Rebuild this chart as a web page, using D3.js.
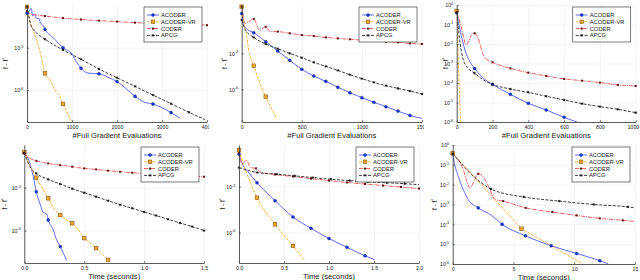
<!DOCTYPE html>
<html><head><meta charset="utf-8">
<script src="https://cdn.jsdelivr.net/npm/d3@7"></script>
<style>body{margin:0;background:#fff}svg{display:block}text{font-family:"Liberation Sans",Arial,sans-serif;fill:#222}</style>
</head><body><svg id="c" width="640" height="280"></svg>
<script>
// ---------- DATA (x, log10(f - f*), marker flag) ----------
const seriesNames = ["ACODER","ACODER-VR","CODER","APCG"];

const p1_acoder = [[0,-0.55,1],[40,-0.45],[90,-0.2],[130,-0.75],[160,-0.6],[220,-0.95],[260,-0.9],[300,-1.25],[350,-1.4],[400,-1.7,1],[600,-2.35],[800,-3.0,1],[1000,-3.45],[1100,-4.0],[1200,-4.45,1],[1350,-4.8],[1600,-4.85,1],[1800,-5.1],[2000,-5.4,1],[2200,-5.9],[2400,-6.45,1],[2600,-6.85],[2800,-7.0,1],[3000,-7.25],[3200,-7.6,1],[3400,-8.0]];
const p1_acodervr = [[0,-0.1,1],[74,-1.2],[148,-1.87],[259,-2.93],[333,-3.87],[400,-4.82,1],[511,-5.29],[622,-6.0],[733,-6.47],[800,-6.99,1],[881,-7.54],[990,-8.2]];
const p1_coder = [[0,-0.4,1],[50,-0.55],[100,-0.6],[200,-0.68],[400,-0.75,1],[800,-0.9,1],[1200,-1.0,1],[1600,-1.08,1],[2000,-1.15,1],[2400,-1.22,1],[2800,-1.28,1],[3200,-1.33,1],[3600,-1.37,1],[4000,-1.4,1],[4400,-1.43]];
const p1_apcg = [[0,-0.1,1],[30,-0.6],[74,-1.27],[148,-1.74],[250,-2.05],[400,-2.4,1],[800,-3.16,1],[1200,-3.82,1],[1600,-4.51,1],[2000,-5.13,1],[2400,-5.74,1],[2800,-6.36,1],[3200,-6.97,1],[3600,-7.58,1],[3950,-8.1]];

const p2_acoder = [[0,0.33,1],[25,-0.78],[55,-1.06],[100,-1.28,1],[200,-2.03,1],[300,-2.81,1],[400,-3.58,1],[500,-4.33,1],[600,-4.89,1],[700,-5.33,1],[800,-5.83,1],[900,-6.28,1],[1000,-6.69,1],[1100,-7.08,1],[1200,-7.44,1],[1300,-7.81,1],[1400,-8.17,1],[1500,-8.42]];
const p2_acodervr = [[0,0.89,1],[14,-0.22],[42,-1.61],[55,-2.5],[100,-4.03,1],[153,-5.5],[200,-6.61,1],[292,-8.42]];
const p2_coder = [[0,0.89,1],[28,-0.5],[60,-0.35],[100,-0.14,1],[150,-1.06],[200,-0.78,1],[240,-1.19],[300,-1.19,1],[400,-1.33,1],[500,-1.47,1],[600,-1.56,1],[700,-1.67,1],[800,-1.75,1],[900,-1.83,1],[1000,-1.89,1],[1100,-1.97,1],[1200,-2.03,1],[1300,-2.08,1],[1400,-2.17,1],[1500,-2.22,1]];
const p2_apcg = [[0,-0.22,1],[28,-1.0],[100,-1.67,1],[200,-2.22,1],[300,-2.61,1],[400,-3.0,1],[500,-3.36,1],[600,-3.75,1],[700,-4.08,1],[800,-4.42,1],[900,-4.78,1],[1000,-5.11,1],[1100,-5.42,1],[1200,-5.69,1],[1300,-5.92,1],[1400,-6.14,1],[1500,-6.39,1]];

const p3_acoder = [[0,-0.39,1],[19,-1.28],[46,-2.31],[74,-2.91],[100,-3.25,1],[150,-3.76],[200,-4.07,1],[300,-4.58,1],[400,-5.04,1],[500,-5.38,1],[600,-5.76,1],[700,-6.1]];
const p3_acodervr = [[0,-0.3,1],[8,-2.6],[16,-4.6],[24,-6.2]];
const p3_coder = [[0,-0.39,1],[25,-1.1],[40,-1.7],[52,-2.05],[65,-1.9],[85,-1.5],[100,-1.45,1],[115,-1.6],[130,-2.0],[150,-2.6],[170,-2.8],[200,-2.94,1],[300,-3.25,1],[400,-3.47,1],[500,-3.64,1],[600,-3.79,1],[700,-3.88,1],[800,-3.98,1],[900,-4.1,1],[1000,-4.15,1]];
const p3_apcg = [[0,-0.39,1],[19,-1.97],[37,-2.82],[65,-3.25],[100,-3.5,1],[150,-3.85],[200,-4.07,1],[300,-4.31,1],[400,-4.48,1],[500,-4.68,1],[600,-4.87,1],[700,-5.06,1],[800,-5.21,1],[900,-5.35,1],[1000,-5.52,1]];

const p4_acoder = [[0,-0.56,1],[0.047,-1.3],[0.075,-2.23],[0.1,-3.28,1],[0.13,-4.09],[0.16,-4.74],[0.187,-4.84],[0.2,-5.26,1],[0.242,-5.95],[0.27,-6.65],[0.3,-7.12,1],[0.326,-7.58],[0.354,-8.09]];
const p4_acodervr = [[0,-0.5,1],[0.047,-1.42],[0.1,-2.3,1],[0.159,-3.16],[0.2,-3.74,1],[0.256,-4.56],[0.3,-4.91,1],[0.354,-5.26],[0.4,-5.49,1],[0.45,-5.95],[0.5,-6.53,1],[0.55,-6.88],[0.6,-7.23,1],[0.645,-7.58],[0.7,-8.05,1]];
const p4_coder = [[0,-0.6,1],[0.05,-0.95],[0.1,-1.12,1],[0.2,-1.3,1],[0.3,-1.42,1],[0.4,-1.53,1],[0.5,-1.65,1],[0.6,-1.72,1],[0.7,-1.81,1],[0.8,-1.88,1],[0.9,-1.95,1],[1.0,-2.0,1],[1.1,-2.05,1],[1.2,-2.12,1],[1.3,-2.14,1],[1.4,-2.19,1],[1.5,-2.23,1]];
const p4_apcg = [[0,-0.56,1],[0.047,-1.53],[0.1,-2.0,1],[0.2,-2.42,1],[0.3,-2.74,1],[0.4,-3.07,1],[0.5,-3.35,1],[0.6,-3.63,1],[0.7,-3.91,1],[0.8,-4.19,1],[0.9,-4.44,1],[1.0,-4.7,1],[1.1,-4.95,1],[1.2,-5.21,1],[1.3,-5.47,1],[1.4,-5.72,1],[1.5,-6.0,1]];

const p5_acoder = [[0,-0.87,1],[0.044,-1.59],[0.1,-2.02],[0.2,-2.74,1],[0.4,-3.91,1],[0.6,-4.98,1],[0.8,-5.72,1],[1.0,-6.39,1],[1.2,-6.96,1],[1.4,-7.52,1],[1.51,-7.78]];
const p5_acodervr = [[0,-0.61,1],[0.044,-1.48],[0.1,-2.35],[0.2,-3.72,1],[0.4,-5.46,1],[0.6,-6.87,1],[0.73,-7.83]];
const p5_coder = [[0,-0.78,1],[0.04,-1.55],[0.08,-1.26],[0.13,-1.75],[0.19,-1.8,1],[0.24,-2.05],[0.4,-2.2,1],[0.6,-2.33,1],[0.8,-2.47,1],[1.0,-2.6,1],[1.2,-2.72,1],[1.4,-2.82,1],[1.6,-2.92,1],[1.8,-3.02,1],[2.0,-3.12,1]];
const p5_apcg = [[0,-1.75,1],[0.2,-2.07,1],[0.42,-2.18,1],[0.62,-2.29,1],[0.82,-2.4,1],[1.02,-2.51,1],[1.23,-2.6,1],[1.43,-2.68,1],[1.64,-2.74,1],[1.84,-2.8,1],[2.0,-2.87]];

const p6_acoder = [[0,-0.42,1],[0.1,-0.8],[0.46,-1.58],[0.87,-2.25],[1.28,-2.75],[2.1,-3.17,1],[3.2,-3.55],[4.07,-4.0,1],[5.98,-4.58,1],[8.1,-5.08,1],[10.2,-5.47,1],[12.1,-5.83,1],[12.8,-6.0]];
const p6_acodervr = [[0,-0.42,1],[5.66,-4.22,1],[10.7,-6.0]];
const p6_coder = [[0,-0.45,1],[0.87,-1.25],[1.2,-1.9],[1.42,-2.17],[1.7,-1.9],[2.1,-1.45,1],[2.5,-1.6],[2.95,-2.1],[3.5,-2.75],[4.15,-2.83,1],[6.0,-3.17,1],[8.2,-3.38,1],[10.2,-3.55,1],[12.1,-3.7,1],[14.0,-3.8,1],[15.0,-3.85]];
const p6_apcg = [[0,-0.45,1],[3.15,-2.22,1],[5.85,-2.62,1],[8.77,-2.83,1],[11.6,-3.0,1],[14.4,-3.12,1],[15.0,-3.17]];

const p1_xticks = [0,1000,2000,3000,4000];
const p2_xticks = [0,500,1000,1500];
const p3_xticks = [0,200,400,600,800,1000];
const p4_xticks = [0,0.5,1.0,1.5];
const p5_xticks = [0,0.5,1.0,1.5,2.0];
const p6_xticks = [0,5,10,15];
const yticks_sparse = [1e-3,1e-6];
const yticks_dense = [1,1e-1,1e-2,1e-3,1e-4,1e-5,1e-6];
const xLabelTop = "#Full Gradient Evaluations";
const xLabelBottom = "Time (seconds)";

// ---------- LAYOUT / STYLE ----------
const panels = [
  {L:27,R:207,T:5,B:122,cell:[0,0,209,140],xd:[0,4000],ye:[-8.27,0.03],xt:p1_xticks,yt:yticks_sparse,fmt:d3.format("d"),xl:xLabelTop,ylx:8,
   s:[p1_acoder,p1_acodervr,p1_coder,p1_apcg]},
  {L:241.7,R:422,T:5,B:122,cell:[210,0,214,140],xd:[0,1500],ye:[-8.72,1.03],xt:p2_xticks,yt:yticks_sparse,fmt:d3.format("d"),xl:xLabelTop,ylx:227,
   s:[p2_acoder,p2_acodervr,p2_coder,p2_apcg]},
  {L:456.7,R:635.7,T:5,B:122,cell:[425,0,215,140],xd:[0,1000],ye:[-6,0],xt:p3_xticks,yt:yticks_dense,fmt:d3.format("d"),xl:xLabelTop,ylx:448,
   s:[p3_acoder,p3_acodervr,p3_coder,p3_apcg],lastEnd:true},
  {L:24.3,R:204,T:145,B:263,cell:[0,140,209,140],xd:[0,1.5],ye:[-8.27,-0.01],xt:p4_xticks,yt:yticks_sparse,fmt:d3.format(".1f"),xl:xLabelBottom,ylx:7,
   s:[p4_acoder,p4_acodervr,p4_coder,p4_apcg]},
  {L:239,R:419,T:145,B:263,cell:[210,140,214,140],xd:[0,2.0],ye:[-7.99,-0.27],xt:p5_xticks,yt:yticks_sparse,fmt:d3.format(".1f"),xl:xLabelBottom,ylx:225,
   s:[p5_acoder,p5_acodervr,p5_coder,p5_apcg]},
  {L:452.7,R:635,T:145,B:264,cell:[425,140,215,140],xd:[0,15],ye:[-6,0],xt:p6_xticks,yt:yticks_dense,fmt:d3.format("d"),xl:xLabelBottom,ylx:437,
   s:[p6_acoder,p6_acodervr,p6_coder,p6_apcg],linear:[false,true,false,false]}
];
const styles = [
  {line:"#5b6cff",dash:null,fill:"#1d36dc",stroke:"#0c1a7a",shape:"circle"},
  {line:"#f8b548",dash:"3,1.2",fill:"#f2a72c",stroke:"#6b4300",shape:"square"},
  {line:"#ee5c5c",dash:"4,1,1,1",fill:"#5a1212",stroke:"#2a0000",shape:"small"},
  {line:"#3c3c3c",dash:"3,1.5",fill:"#111",stroke:"#111",shape:"cross"}
];

const svg = d3.select("#c");
const defs = svg.append("defs");

function drawMarker(g, st, cx, cy){
  if(st.shape==="circle") g.append("circle").attr("cx",cx).attr("cy",cy).attr("r",1.5).attr("fill",st.fill).attr("stroke",st.stroke).attr("stroke-width",0.4);
  else if(st.shape==="square") g.append("rect").attr("x",cx-1.8).attr("y",cy-1.8).attr("width",3.6).attr("height",3.6).attr("fill",st.fill).attr("stroke",st.stroke).attr("stroke-width",0.5);
  else if(st.shape==="small") g.append("rect").attr("x",cx-1).attr("y",cy-1).attr("width",2).attr("height",2).attr("fill",st.fill);
  else {
    g.append("path").attr("d",`M${cx-1.3},${cy}H${cx+1.3}M${cx},${cy-1.3}V${cy+1.3}M${cx-0.9},${cy-0.9}L${cx+0.9},${cy+0.9}M${cx-0.9},${cy+0.9}L${cx+0.9},${cy-0.9}`).attr("stroke",st.fill).attr("stroke-width",0.7);
  }
}

panels.forEach((p,i)=>{
  defs.append("clipPath").attr("id","cell"+i).append("rect").attr("x",p.cell[0]).attr("y",p.cell[1]).attr("width",p.cell[2]).attr("height",p.cell[3]);
  defs.append("clipPath").attr("id","plot"+i).append("rect").attr("x",p.L).attr("y",p.T).attr("width",p.R-p.L).attr("height",p.B-p.T);
  const g = svg.append("g").attr("clip-path",`url(#cell${i})`);
  const x = d3.scaleLinear().domain(p.xd).range([p.L,p.R]);
  const y = d3.scaleLog().domain([10**p.ye[0],10**p.ye[1]]).range([p.B,p.T]);

  // grid
  g.append("g").attr("transform",`translate(0,${p.B})`)
    .call(d3.axisBottom(x).tickValues(p.xt).tickSize(-(p.B-p.T)).tickFormat(""))
    .call(s=>{s.select(".domain").remove();s.selectAll("line").attr("stroke","#e8e8e8").attr("stroke-width",0.5);});
  g.append("g").attr("transform",`translate(${p.L},0)`)
    .call(d3.axisLeft(y).tickValues(p.yt).tickSize(-(p.R-p.L)).tickFormat(""))
    .call(s=>{s.select(".domain").remove();s.selectAll("line").attr("stroke","#e8e8e8").attr("stroke-width",0.5);});

  // lines
  const pg = g.append("g").attr("clip-path",`url(#plot${i})`);
  const mg = g.append("g");
  p.s.forEach((data,k)=>{
    const st = styles[k];
    const curve = (p.linear && p.linear[k]) ? d3.curveLinear : d3.curveMonotoneX;
    const line = d3.line().x(d=>x(d[0])).y(d=>y(10**d[1])).curve(curve);
    pg.append("path").attr("d",line(data)).attr("fill","none").attr("stroke",st.line)
      .attr("stroke-width",1).attr("stroke-dasharray",st.dash);
  });
  p.s.forEach((data,k)=>{
    const st = styles[k];
    data.filter(d=>d[2] && d[0]<=p.xd[1] && d[1]>=p.ye[0] && d[1]<=p.ye[1]+0.05)
      .forEach(d=>drawMarker(mg,st,x(d[0]),y(10**d[1])));
  });

  // axes
  const xa = g.append("g").attr("transform",`translate(0,${p.B})`)
    .call(d3.axisBottom(x).tickValues(p.xt).tickFormat(p.fmt).tickSizeInner(-2).tickSizeOuter(0).tickPadding(3.5));
  xa.selectAll("text").attr("font-size",5.2).attr("fill","#222");
  if(p.lastEnd) xa.selectAll(".tick").filter(d=>d===p.xd[1]).select("text").attr("text-anchor","end").attr("x",3);
  const ya = g.append("g").attr("transform",`translate(${p.L},0)`)
    .call(d3.axisLeft(y).tickValues(p.yt).tickFormat(()=>"").tickSizeInner(-2).tickSizeOuter(0));
  ya.selectAll(".tick").each(function(v){
    const t = d3.select(this).append("text").attr("x",-3.5).attr("y",1.8).attr("text-anchor","end").attr("font-size",5.2).attr("fill","#222");
    t.append("tspan").text("10");
    t.append("tspan").attr("dy",-2.4).attr("font-size",3.8).text(String(Math.round(Math.log10(v))));
  });
  [xa,ya].forEach(a=>{a.select(".domain").attr("stroke","#333").attr("stroke-width",0.8);a.selectAll("line").attr("stroke","#333").attr("stroke-width",0.6);});

  // labels
  g.append("text").attr("x",(p.L+p.R)/2).attr("y",p.B+15.5).attr("text-anchor","middle").attr("font-size",7.6).attr("fill","#222").text(p.xl);
  const yl = g.append("text").attr("transform",`translate(${p.ylx},${(p.T+p.B)/2}) rotate(-90)`).attr("text-anchor","middle").attr("font-size",6.5).attr("fill","#222");
  yl.append("tspan").text("f - f");
  yl.append("tspan").attr("dy",-2).attr("font-size",4.5).text("*");

  // legend
  const lx = p.R-63, ly = p.T+2;
  const lg = g.append("g");
  lg.append("rect").attr("x",lx).attr("y",ly).attr("width",58).attr("height",35).attr("fill","#fff").attr("stroke","#444").attr("stroke-width",0.7);
  seriesNames.forEach((n,k)=>{
    const st = styles[k], yy = ly+8+k*6.8;
    lg.append("line").attr("x1",lx+3).attr("x2",lx+15).attr("y1",yy).attr("y2",yy).attr("stroke",st.line).attr("stroke-width",1).attr("stroke-dasharray",st.dash);
    drawMarker(lg,st,lx+9,yy);
    lg.append("text").attr("x",lx+17).attr("y",yy+2).attr("font-size",5.8).attr("fill","#222").text(n);
  });
});
</script></body></html>
